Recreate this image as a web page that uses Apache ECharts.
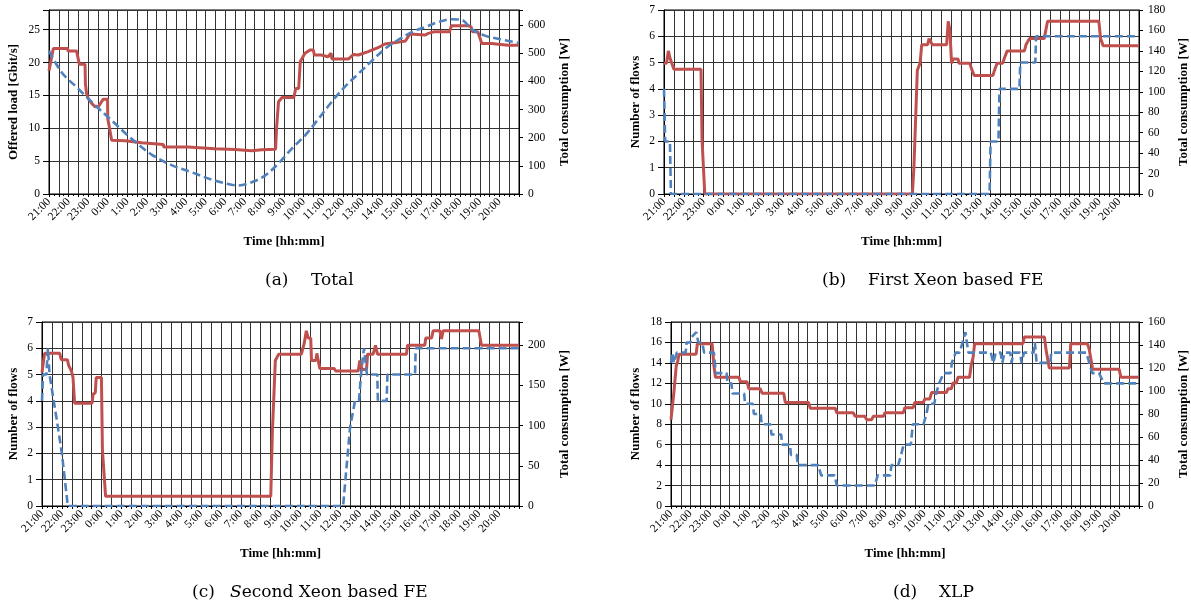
<!DOCTYPE html>
<html><head><meta charset="utf-8">
<script src="https://cdn.jsdelivr.net/npm/echarts@6/dist/echarts.min.js"></script>
<style>html,body{margin:0;padding:0;background:#fff}#c{width:1191px;height:607px}</style>
</head><body><div id="c"></div>
<script>
// ---- tick labels (x = hours elapsed since 21:00) ----
const hourLabels = ['21:00','22:00','23:00','0:00','1:00','2:00','3:00','4:00','5:00','6:00','7:00','8:00',
  '9:00','10:00','11:00','12:00','13:00','14:00','15:00','16:00','17:00','18:00','19:00','20:00'];

// ---- (a) Total ----
const aLoadT = [0,0.65,1.5,2.18,3.2,4.22,5.24,6.26,7.29,8.3,9.33,9.67,10.35,11.03,11.7,12.4,13.07,13.75,14.43,15.1,15.8,16.5,17.16,17.8,18.5,19.2,19.9,20.56,21.07,21.58,22.26,23.3,24];
const aLoadV = [21.8,18.5,16.0,14.0,11.2,8.4,6.0,4.4,3.3,2.2,1.4,1.3,1.8,2.8,4.6,6.9,8.9,11.4,14.0,16.3,18.3,20.3,22.1,23.4,24.6,25.4,26.2,26.6,26.5,25.1,24.1,23.4,23.0];
const aPowT = [0,0.1,0.22,0.3,0.6,0.95,0.97,1.41,1.46,1.55,1.84,1.86,1.92,2.0,2.18,2.35,2.52,2.77,2.99,3.0,3.2,3.25,3.9,3.95,4.73,4.75,5.84,5.86,7.1,7.12,8.46,8.48,9.5,9.52,10.35,10.37,10.86,10.88,11.57,11.62,11.72,11.9,12.5,12.6,12.75,12.83,13.07,13.33,13.5,13.55,13.9,13.95,14.25,14.4,14.45,15.3,15.35,15.55,15.8,16.3,16.8,17.15,17.8,18.2,18.43,19.2,19.37,19.7,20.45,20.55,21.4,21.55,21.62,21.9,22.1,22.6,22.95,23.45,24];
const aPowV = [438,438,517,520,517,517,508,508,505,461,461,391,357,340,322,310,310,337,337,268,191,189,189,182,182,176,176,167,167,161,161,158,158,154,154,157,157,159,159,233,328,343,343,375,375,470,500,512,512,494,494,488,488,500,480,480,486,496,494,506,520,533,539,544,569,565,571,577,577,598,598,595,577,577,535,535,532,529,529];

// ---- (b) First Xeon based FE ----
const bFlowT = [0,0.05,0.06,0.3,0.35,16.45,16.5,16.9,16.95,17.96,18.0,18.76,18.8,24];
const bFlowV = [4,4,2,2,0,0,2,2,4,4,5,5,6,6];
const bPowT = [0,0.13,0.22,0.3,0.38,0.5,1.87,1.92,2.01,2.06,12.55,12.63,12.72,12.8,12.94,13.02,13.32,13.39,13.49,13.56,14.28,14.36,14.44,14.53,14.61,14.86,14.9,15.45,15.53,15.67,16.62,16.7,16.83,17.12,17.2,17.34,18.21,18.29,18.46,19.21,19.38,21.97,22.06,22.19,24];
const bPowV = [128,128,140,133,133,122,122,54,54,0,0,27,27,121,128,146,146,152,152,146,146,169,161,128,132,132,128,128,123,116,116,121,128,128,133,140,140,146,152,152,169,169,152,145,145];

// ---- (c) Second Xeon based FE ----
const cFlowT = [0,0.05,0.22,0.3,0.38,0.45,0.8,0.9,1.0,1.1,1.15,1.22,1.3,15.15,15.5,15.6,15.75,15.95,16.05,16.15,16.2,16.3,16.35,16.87,16.9,17.34,17.38,18.77,18.8,24];
const cFlowV = [4,5,5,6,5,5,3,3,2,2,1,1,0,0,3,3,4,4,5,5,6,6,5,5,4,4,5,5,6,6];
const cPowT = [0,0.1,0.13,0.89,0.97,1.28,1.34,1.48,1.56,1.64,2.52,2.57,2.68,2.73,2.99,3.04,3.12,3.2,11.51,11.59,11.68,11.74,11.91,13.05,13.19,13.3,13.39,13.52,13.56,13.78,13.83,13.89,13.98,14.7,14.78,15.91,15.99,16.11,16.33,16.38,16.66,16.78,16.88,18.34,18.39,19.26,19.31,19.6,19.68,20.02,20.1,20.18,21.98,22.11,24];
const cPowV = [166,166,190,190,182,182,175,168,160,128,128,139,141,160,160,70,70,12,12,91,91,181,189,189,202,218,209,209,181,181,190,190,171,171,168,168,181,170,170,189,189,200,189,189,200,200,209,209,218,218,208,218,218,200,200];

// ---- (d) XLP ----
const dFlowT = [0,0.07,0.15,0.3,0.75,0.8,1.0,1.05,1.3,1.4,1.6,1.7,2.2,2.3,2.85,2.9,3.1,3.15,3.75,3.8,4.2,4.25,4.6,4.65,5.1,5.15,5.65,5.7,6.1,6.15,6.45,6.5,7.55,7.7,8.4,8.5,10.45,10.6,11.25,11.3,11.65,11.8,11.93,12.3,12.4,12.95,13.1,13.2,13.5,13.6,13.75,13.98,14.34,14.4,14.6,14.8,15.1,15.25,16.4,16.53,16.65,16.9,16.99,17.1,17.4,17.47,17.55,17.9,17.98,18.1,18.6,18.66,18.75,19.45,19.5,21.3,21.45,21.6,21.95,22.2,24];
const dFlowV = [14,15,14,15,15,16,16,16.5,17,16,16,15,15,13,13,12,12,11,11,10,10,9,9,8,8,7,7,6,6,5,5,4,4,3,3,2,2,3,3,4,4,5,6,6,8,8,9,10,10,11,12,13,13,14,15,15,17,15,15,14,15,15,14,15,15,14,15,15,14,15,15,16,14,14,15,15,14,13,13,12,12];
const dPowT = [0,0.1,0.15,0.24,0.27,0.35,0.41,1.29,1.35,2.11,2.2,2.28,3.48,3.56,3.9,3.99,4.58,4.67,5.78,5.86,7.05,7.14,8.42,8.5,9.35,9.44,9.95,10.03,10.29,10.37,10.89,10.97,11.91,11.99,12.42,12.5,12.93,13.02,13.27,13.36,14.12,14.21,14.38,14.46,14.63,14.72,15.31,15.4,15.49,15.57,18.04,18.13,19.15,19.23,19.4,20.43,20.5,21.36,21.45,21.62,22.98,23.07,24];
const dPowV = [75,75,99,99,122,126,132,132,141,141,122,112,112,108,108,102,102,98,98,90,90,85,85,81,81,78,78,75,75,78,78,81,81,85.5,85.5,90,90,93,93,98.6,98.6,102,102,107,107,112,112,123,129,141,141,147,147,136,120,120,141,141,136,119,119,112,112];

const zip = (t, v) => t.map((x, i) => [x, v[i]]);

const RED = '#C0504D', BLUE = '#4F81BD';
const FONT = 'Liberation Serif';
const GRIDC = '#333';

const grids = [
  {left: 49, top: 10, width: 470, height: 184},
  {left: 664, top: 10, width: 478, height: 184},
  {left: 42, top: 322, width: 477, height: 184},
  {left: 671, top: 322, width: 470, height: 184}
];
const leftAx = [
  {max: 28, interval: 5, name: 'Offered load [Gbit/s]', gap: 29},
  {max: 7, interval: 1, name: 'Number of flows', gap: 22},
  {max: 7, interval: 1, name: 'Number of flows', gap: 22},
  {max: 18, interval: 2, name: 'Number of flows', gap: 29}
];
const rightAx = [
  {max: 654, interval: 100, gap: 39},
  {max: 180, interval: 20, gap: 38},
  {max: 229, interval: 50, gap: 39},
  {max: 160, interval: 20, gap: 38}
];
const flows = [zip(aLoadT, aLoadV), zip(bFlowT, bFlowV), zip(cFlowT, cFlowV), zip(dFlowT, dFlowV)];
const powers = [zip(aPowT, aPowV), zip(bPowT, bPowV), zip(cPowT, cPowV), zip(dPowT, dPowV)];

const labelStyle = {fontFamily: FONT, fontSize: 11.5, color: '#000'};
const nameStyle = {fontFamily: FONT, fontSize: 13, fontWeight: 'bold', color: '#000'};

const xAxis = [], yAxis = [], series = [];
grids.forEach((g, i) => {
  xAxis.push({
    type: 'value', gridIndex: i, min: 0, max: 24, interval: 0.5,
    name: 'Time [hh:mm]', nameLocation: 'middle', nameGap: 41, nameTextStyle: nameStyle,
    axisLine: {show: true, lineStyle: {color: '#000', width: 1}},
    axisTick: {show: true, length: 3, lineStyle: {color: '#000'}},
    minorTick: {show: true, splitNumber: 2, length: 2, lineStyle: {color: '#000'}},
    splitLine: {show: true, lineStyle: {color: GRIDC, width: 1}},
    axisLabel: Object.assign({rotate: 45, margin: 6, showMinLabel: true, showMaxLabel: true,
      formatter: v => (Number.isInteger(v) && v < 24) ? hourLabels[v] : ''}, labelStyle)
  });
  const L = leftAx[i], R = rightAx[i];
  yAxis.push({
    type: 'value', gridIndex: i, position: 'left', min: 0, max: L.max, interval: L.interval,
    name: L.name, nameLocation: 'middle', nameGap: L.gap, nameTextStyle: nameStyle,
    axisLine: {show: true, lineStyle: {color: '#000'}},
    axisTick: {show: true, length: 6, lineStyle: {color: '#000'}},
    splitLine: {show: true, lineStyle: {color: GRIDC, width: 1}},
    axisLabel: Object.assign({margin: 9, formatter: v => (Math.abs(v / L.interval - Math.round(v / L.interval)) < 1e-9) ? String(v) : ''}, labelStyle)
  });
  yAxis.push({
    type: 'value', gridIndex: i, position: 'right', min: 0, max: R.max, interval: R.interval,
    name: 'Total consumption [W]', nameLocation: 'middle', nameGap: R.gap, nameTextStyle: nameStyle,
    axisLine: {show: true, lineStyle: {color: '#000'}},
    axisTick: {show: true, length: 4, lineStyle: {color: '#000'}},
    splitLine: {show: false},
    axisLabel: Object.assign({margin: 9, formatter: v => (v % R.interval === 0) ? String(v) : ''}, labelStyle)
  });
  series.push({
    type: 'line', xAxisIndex: i, yAxisIndex: 2 * i + 1, data: powers[i], showSymbol: false,
    lineStyle: {color: RED, width: 3}, z: 3, animation: false
  });
  series.push({
    type: 'line', xAxisIndex: i, yAxisIndex: 2 * i, data: flows[i], showSymbol: false,
    smooth: i === 0 ? 0.35 : false,
    lineStyle: {color: BLUE, width: 2.6, type: [8, 4]}, z: 4, animation: false
  });
});

const capFont = '17px "DejaVu Serif"';
const cap = (x, y, text) => ({type: 'text', left: x, top: y,
  style: {text: text, font: capFont, fill: '#000'}});
const graphic = [
  cap(265, 272, '(a)'), cap(311, 272, 'Total'),
  cap(822, 272, '(b)'), cap(868, 272, 'First Xeon based FE'),
  cap(192, 584, '(c)'),
  {type: 'text', left: 230, top: 584, style: {text: '{i|S}econd Xeon based FE', font: capFont, fill: '#000',
    rich: {i: {fontStyle: 'italic', fontFamily: 'DejaVu Serif', fontSize: 17}}}},
  cap(893, 584, '(d)'), cap(939, 584, 'XLP')
];

const chart = echarts.init(document.getElementById('c'), null, {renderer: 'canvas'});
chart.setOption({
  animation: false,
  grid: grids.map(g => Object.assign({show: true, borderColor: '#000', borderWidth: 1, backgroundColor: 'transparent'}, g)),
  xAxis, yAxis, series, graphic
});
</script>
</body></html>
